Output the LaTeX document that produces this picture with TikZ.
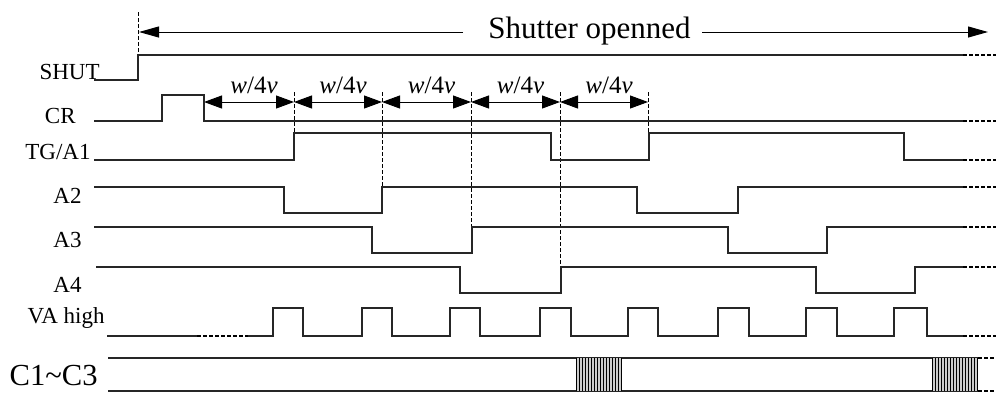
\documentclass[tikz,border=0pt]{standalone}
\usepackage{fontspec}
\setmainfont{Liberation Serif}
\usetikzlibrary{arrows.meta}

\begin{document}
\begin{tikzpicture}[
    x=0.5pt, y=-0.5pt,
    font=\fontsize{11.5}{13}\selectfont,
    sig/.style={line width=0.8pt, line join=miter, draw=black!85},
    tail/.style={line width=0.6pt, dash pattern=on 2pt off 1pt},
    guide/.style={line width=0.5pt, dash pattern=on 2pt off 1pt},
    dimline/.style={line width=0.5pt,
      {Triangle[length=9pt,width=6.5pt]}-{Triangle[length=9pt,width=6.5pt]}},
    bigline/.style={line width=0.5pt, -{Triangle[length=10pt,width=5.5pt]}},
    lbl/.style={anchor=base east, inner sep=0pt},
    wlbl/.style={anchor=base, inner sep=0pt, font=\fontsize{12.5}{14}\selectfont,
      yshift=4.5pt, xshift=2.5pt}
  ]
    \useasboundingbox (0,0) rectangle (996,392);

    % signal names
    \node[lbl] (shutL) at (100,79) {SHUT};
    \node[lbl] (crL)   at (76,123) {CR};
    \node[lbl] (tgL)   at (91,159) {TG/A1};
    \node[lbl] (a2L)   at (82,203) {A2};
    \node[lbl] (a3L)   at (82,247) {A3};
    \node[lbl] (a4L)   at (82,292) {A4};
    \node[lbl] (vaL)   at (105,323) {VA high};
    \node[lbl, font=\fontsize{15.3}{17}\selectfont] (cL) at (98,385) {C1\textasciitilde C3};

    % shutter opening span
    \node[anchor=base west, inner sep=0pt, font=\fontsize{15.5}{18}\selectfont]
      (open) at (488,38) {Shutter openned};
    \coordinate (openA) at (463,32);
    \coordinate (openB) at (702,32);
    \coordinate (openL) at (139,32);
    \coordinate (openR) at (988,32);
    \draw[bigline] (openA) -- (openL);
    \draw[bigline] (openB) -- (openR);
    \draw[guide] (138,12) -- (138,55);

    % w/4v steps
    \foreach \a/\b [count=\i] in {204/294,294/382,382/471,471/560,560/648} {
      \coordinate (dl\i) at (\a,102);
      \coordinate (dr\i) at (\b,102);
      \draw[dimline] (dl\i) -- (dr\i) node[wlbl, midway] {\textit{w}/4\textit{v}};
    }
    \foreach \x/\y in {294/133,382/187,471/227,560/267,648/133}
      \draw[guide] (\x,92) -- (\x,\y);

    % waveforms
    \draw[sig] (94,80) -- (138,80) -- (138,55) -- (963,55);
    \draw[sig] (94,121) -- (162,121) -- (162,95) -- (204,95) -- (204,121) -- (963,121);
    \draw[sig] (94,160) -- (294,160) -- (294,133) -- (551,133) -- (551,160)
      -- (649,160) -- (649,133) -- (904,133) -- (904,160) -- (963,160);
    \draw[sig] (94,187) -- (284,187) -- (284,213) -- (382,213) -- (382,187)
      -- (637,187) -- (637,213) -- (738,213) -- (738,187) -- (963,187);
    \draw[sig] (94,227) -- (372,227) -- (372,253) -- (472,253) -- (472,227)
      -- (728,227) -- (728,253) -- (827,253) -- (827,227) -- (963,227);
    \draw[sig] (96,267) -- (460,267) -- (460,293) -- (561,293) -- (561,267)
      -- (816,267) -- (816,293) -- (915,293) -- (915,267) -- (963,267);
    \draw[sig] (107,336) -- (197,336);
    \draw[tail] (197,336) -- (248,336);
    \draw[sig] (248,336) -- (273,336) -- (273,308) -- (303,308) -- (303,336)
      -- (362,336) -- (362,308) -- (392,308) -- (392,336)
      -- (450,336) -- (450,308) -- (480,308) -- (480,336)
      -- (540,336) -- (540,308) -- (571,308) -- (571,336)
      -- (628,336) -- (628,308) -- (658,308) -- (658,336)
      -- (718,336) -- (718,308) -- (749,308) -- (749,336)
      -- (806,336) -- (806,308) -- (837,308) -- (837,336)
      -- (894,336) -- (894,308) -- (927,308) -- (927,336) -- (963,336);
    \foreach \y in {55,121,160,187,227,267,336}
      \draw[tail] (963,\y) -- (996,\y);

    % C1~C3 bus with bursts
    \draw[sig] (108,358) -- (978,358);
    \draw[sig] (108,391) -- (978,391);
    \foreach \y in {358,391}
      \draw[tail] (978,\y) -- (996,\y);
    \foreach \s in {576,932} {
      \fill[black!20] (\s,358) rectangle (\s+45,391);
      \foreach \k in {0,3,...,45}
        \draw[line width=0.45pt] (\s+\k,358) -- (\s+\k,391);
    }
  \end{tikzpicture}
\end{document}
